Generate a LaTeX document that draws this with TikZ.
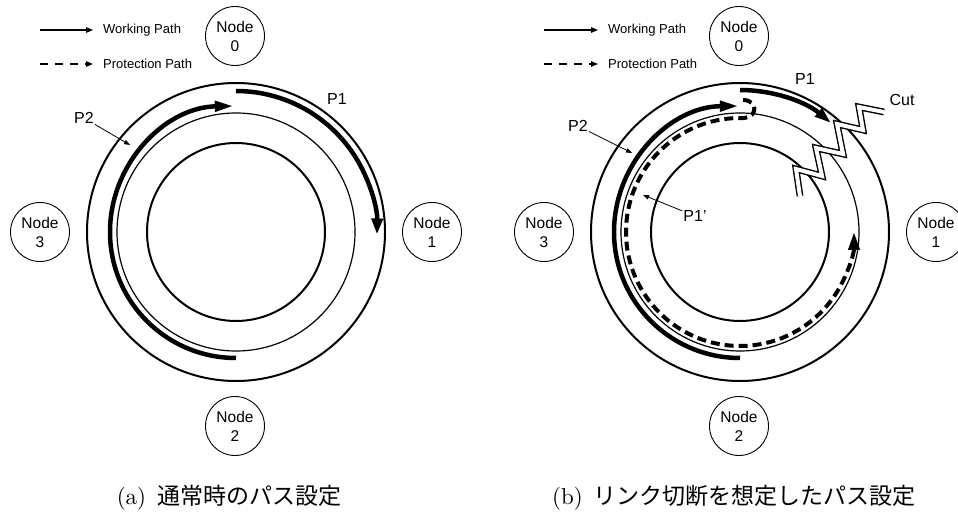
\documentclass[tikz,border=0pt]{standalone}
\usepackage{fontspec}
\setmainfont{lmroman10-regular.otf}
\newfontfamily\arialf{Liberation Sans}
\newfontfamily\cjkf{Noto Sans CJK JP}
\usetikzlibrary{arrows.meta}
\begin{document}
\begin{tikzpicture}[x=1pt,y=1pt,
  ring/.style={line width=2pt},
  thinring/.style={line width=1.2pt},
  netnode/.style={circle,draw,line width=0.9pt,minimum size=59pt,inner sep=0pt,align=center,font=\arialf\fontsize{15.5}{19}\selectfont},
  work/.style={line width=4.5pt},
  prot/.style={line width=4pt,dash pattern=on 9pt off 5pt},
  lbl/.style={font=\arialf\fontsize{16}{18}\selectfont,inner sep=1pt},
  lblarrow/.style={line width=0.8pt,-{Triangle[length=6pt,width=4.5pt]}},
  legline/.style={line width=1.2pt,-{Triangle[length=7pt,width=5.5pt]}},
  legtext/.style={font=\arialf\fontsize{13}{15}\selectfont,anchor=west,inner sep=0pt},
  captext/.style={font=\fontsize{23}{27}\selectfont,inner sep=0pt},
  cutline/.style={line width=1.4pt,double=white,double distance=4pt,line join=miter}
]
\useasboundingbox (0,0) rectangle (958,512);

% ================= (a) =================
\coordinate (A) at (236,280);
\draw[ring] (A) circle[radius=149];
\draw[thinring] (A) circle[radius=119];
\draw[ring] (A) circle[radius=89];
\draw[work,-{Triangle[length=16pt,width=11pt]}] ([shift={(90:141)}]A) arc[start angle=90,end angle=-1,radius=141];
\draw[work,-{Triangle[length=19pt,width=10pt]}] ([shift={(270:126)}]A) arc[start angle=270,end angle=91,radius=126];

\node[netnode] (n0a) at (235,476) {Node\\0};
\node[netnode] (n1a) at (432,280) {Node\\1};
\node[netnode] (n2a) at (235,86) {Node\\2};
\node[netnode] (n3a) at (40,280) {Node\\3};

\coordinate (lwa1) at (40,482); \coordinate (lwa2) at (93,482);
\draw[legline] (lwa1) -- (lwa2);
\node[legtext] (lwta) at (103,482) {Working Path};
\coordinate (lpa1) at (40,448); \coordinate (lpa2) at (93,448);
\draw[legline,dash pattern=on 8pt off 7pt] (lpa1) -- (lpa2);
\node[legtext] (lpta) at (103,448) {Protection Path};

\node[lbl] (p1a) at (337,413) {P1};
\node[lbl] (p2a) at (84,394) {P2};
\coordinate (p2at) at (130,367);
\draw[lblarrow] (p2a) -- (p2at);

\node[captext] (capa) at (229,14) {(a)\hspace{0.15em} {\cjkf 通常時のパス設定}};

% ================= (b) =================
\coordinate (B) at (740,280);
\draw[ring] (B) circle[radius=149];
\draw[thinring] (B) circle[radius=119];
\draw[ring] (B) circle[radius=89];
\draw[work,-{Triangle[length=17pt,width=10pt]}] ([shift={(90:142)}]B) arc[start angle=90,end angle=50,radius=142];
\draw[work,-{Triangle[length=19pt,width=10pt]}] ([shift={(270:126)}]B) arc[start angle=270,end angle=90.5,radius=126];
\draw[prot,-{Triangle[length=18pt,width=11pt]}] (743,412) .. controls (758,412) and (758,395) .. ([shift={(88:114)}]B) arc[start angle=88,end angle=360,radius=114];

\node[netnode] (n0b) at (739,476) {Node\\0};
\node[netnode] (n1b) at (936,280) {Node\\1};
\node[netnode] (n2b) at (739,86) {Node\\2};
\node[netnode] (n3b) at (544,280) {Node\\3};

\coordinate (lwb1) at (544,482); \coordinate (lwb2) at (598,482);
\draw[legline] (lwb1) -- (lwb2);
\node[legtext] (lwtb) at (608,482) {Working Path};
\coordinate (lpb1) at (544,448); \coordinate (lpb2) at (598,448);
\draw[legline,dash pattern=on 8pt off 7pt] (lpb1) -- (lpb2);
\node[legtext] (lptb) at (608,448) {Protection Path};

\node[lbl] (p1b) at (805,433) {P1};
\node[lbl] (p2b) at (578,386) {P2};
\coordinate (p2bt) at (632,359);
\draw[lblarrow] (p2b) -- (p2bt);
\node[lbl] (p1pb) at (695,296) {P1’};
\coordinate (p1pbt) at (643,317);
\draw[lblarrow] (p1pb) -- (p1pbt);
\node[lbl] (cutb) at (902,412) {Cut};

\draw[cutline] (884,400) -- (859,405) -- (863,382) -- (837,388) -- (843,358) -- (816,364) -- (822,336) -- (796,343) -- (800,316);

\node[captext] (capb) at (734,14) {(b)\hspace{0.15em} {\cjkf リンク切断を想定したパス設定}};
\end{tikzpicture}
\end{document}
